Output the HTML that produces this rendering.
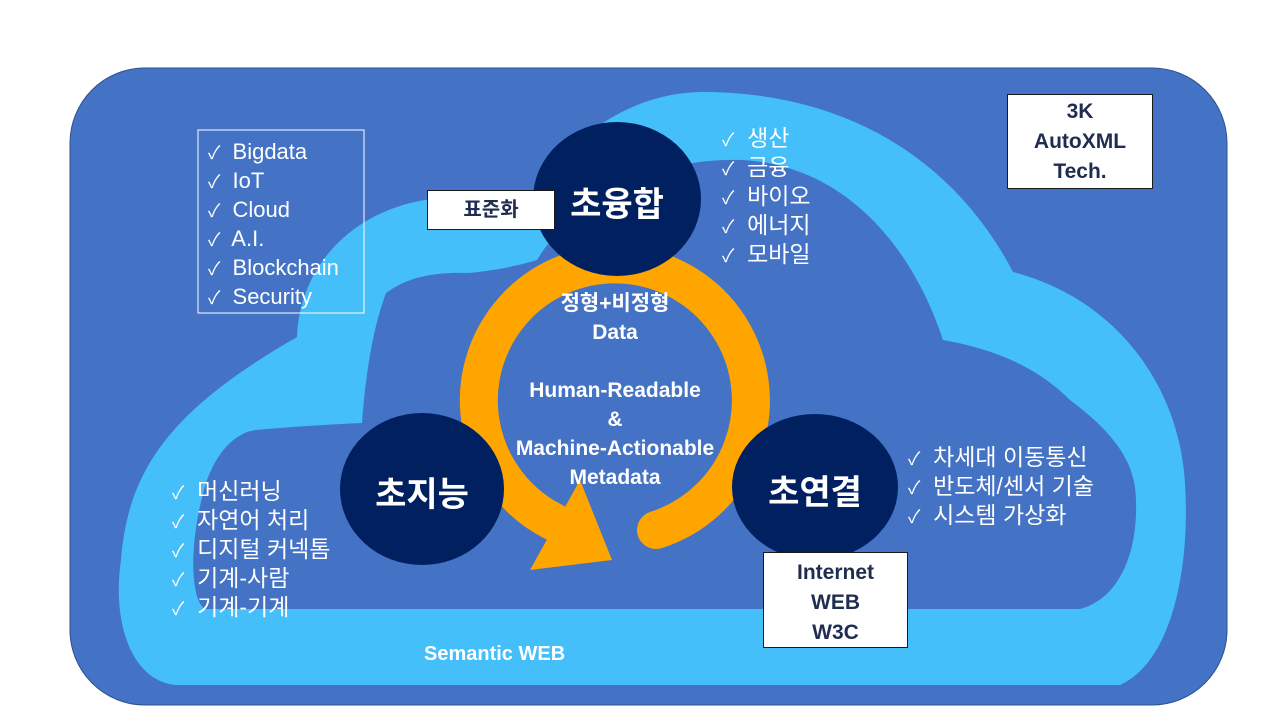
<!DOCTYPE html>
<html><head><meta charset="utf-8"><style>
body{margin:0;width:1280px;height:720px;background:#fff;overflow:hidden;position:relative;font-family:"Liberation Sans","Noto Sans CJK KR",sans-serif}
.t{position:absolute;white-space:nowrap}
.list{color:#fff;font-size:22px;line-height:29px}
.list div{height:29px}
.ck{font-size:18px;line-height:0}
.box{position:absolute;background:#fff;border:1px solid #1a1a1a;color:#1F2D50;font-weight:bold;text-align:center}
.c{position:absolute;color:#fff;font-weight:bold;text-align:center;font-size:21px;line-height:29px;width:300px}
</style></head><body>
<svg width="1280" height="720" style="position:absolute;left:0;top:0">
<rect x="70" y="68" width="1157" height="637" rx="75" fill="#4472C4" stroke="#2F528F" stroke-width="1"/>
<path fill="#44BFF9" d="M175 685 C130 680 112 620 121 560 C128 470 170 410 297 337 C300 260 360 205 440 198 C480 193 515 195 540 192 C580 120 650 90 710 92 C860 95 960 170 1013 272 C1120 300 1180 390 1185 484 C1190 560 1175 660 1120 685 Z"/>
<path fill="#4472C4" d="M205 609 C190 600 188 540 207 480 C220 445 240 432 256 430 C300 426 340 424 362 423 C365 380 372 330 386 293 C410 275 440 272 468 273 C500 270 520 265 537 260 C580 190 660 158 742 160 C840 165 910 240 943 340 C1000 350 1040 370 1070 400 C1110 430 1136 460 1136 500 C1138 560 1115 600 1080 609 Z"/>
<path d="M656 530 A136 136 0 1 0 554 522" fill="none" stroke="#FFA500" stroke-width="38" stroke-linecap="round"/>
<polygon points="530,570 580,480 612,560" fill="#FFA500"/>
<ellipse cx="617" cy="199" rx="84" ry="77" fill="#002060"/>
<ellipse cx="422" cy="489" rx="82" ry="76" fill="#002060"/>
<ellipse cx="815" cy="487" rx="83" ry="73" fill="#002060"/>
<rect x="198" y="130" width="166" height="183" fill="none" stroke="#fff" stroke-width="1"/>
</svg>
<div class="t list" style="left:208px;top:137px"><div><span class="ck">✓</span>&nbsp; Bigdata</div><div><span class="ck">✓</span>&nbsp; IoT</div><div><span class="ck">✓</span>&nbsp; Cloud</div><div><span class="ck">✓</span>&nbsp; A.I.</div><div><span class="ck">✓</span>&nbsp; Blockchain</div><div><span class="ck">✓</span>&nbsp; Security</div></div>
<div class="t list" style="left:722px;top:124px;font-size:23px"><div><span class="ck">✓</span>&nbsp; 생산</div><div><span class="ck">✓</span>&nbsp; 금융</div><div><span class="ck">✓</span>&nbsp; 바이오</div><div><span class="ck">✓</span>&nbsp; 에너지</div><div><span class="ck">✓</span>&nbsp; 모바일</div></div>
<div class="t list" style="left:908px;top:443px;font-size:23px"><div><span class="ck">✓</span>&nbsp; 차세대 이동통신</div><div><span class="ck">✓</span>&nbsp; 반도체/센서 기술</div><div><span class="ck">✓</span>&nbsp; 시스템 가상화</div></div>
<div class="t list" style="left:172px;top:477px;font-size:23px"><div><span class="ck">✓</span>&nbsp; 머신러닝</div><div><span class="ck">✓</span>&nbsp; 자연어 처리</div><div><span class="ck">✓</span>&nbsp; 디지털 커넥톰</div><div><span class="ck">✓</span>&nbsp; 기계-사람</div><div><span class="ck">✓</span>&nbsp; 기계-기계</div></div>
<div class="box" style="left:427px;top:190px;width:126px;height:38px;line-height:38px;font-size:20px">표준화</div>
<div class="box" style="left:1007px;top:94px;width:146px;height:95px;font-size:21px;line-height:30px;padding-top:2px;box-sizing:border-box">3K<br>AutoXML<br>Tech.</div>
<div class="box" style="left:763px;top:552px;width:145px;height:96px;font-size:21px;line-height:30px;padding-top:5px;box-sizing:border-box">Internet<br>WEB<br>W3C</div>
<div class="t" style="left:537px;top:177px;width:160px;text-align:center;color:#fff;font-weight:bold;font-size:34px">초융합</div>
<div class="t" style="left:342px;top:467px;width:160px;text-align:center;color:#fff;font-weight:bold;font-size:34px">초지능</div>
<div class="t" style="left:735px;top:465px;width:160px;text-align:center;color:#fff;font-weight:bold;font-size:34px">초연결</div>
<div class="c" style="left:465px;top:289px">정형+비정형<br>Data<br><br>Human-Readable<br>&amp;<br>Machine-Actionable<br>Metadata</div>
<div class="t" style="left:424px;top:643px;color:#fff;font-weight:bold;font-size:20px">Semantic WEB</div>
</body></html>
